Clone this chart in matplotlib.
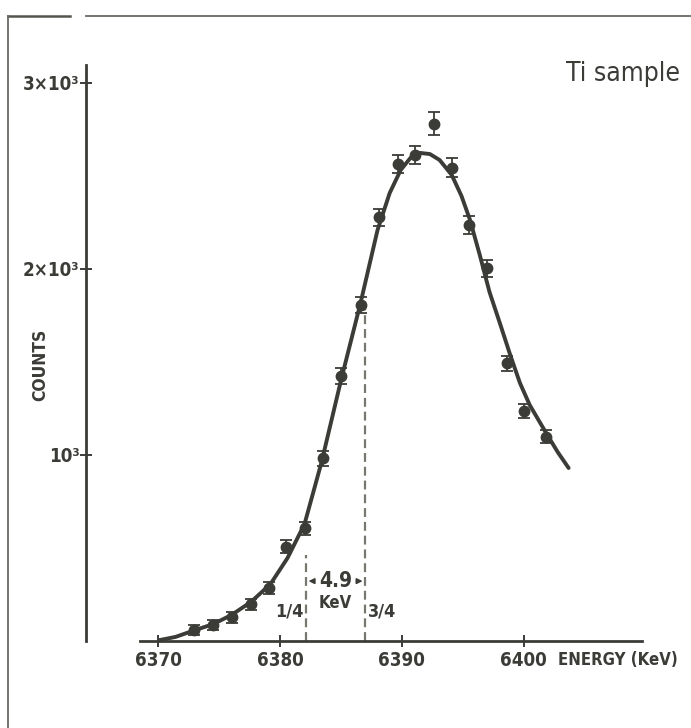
import matplotlib
matplotlib.use("Agg")
import matplotlib.pyplot as plt
from matplotlib.lines import Line2D
from matplotlib import font_manager

# measured points (energy in keV, counts, error)
energy = [6372.9, 6374.5, 6376.0, 6377.6, 6379.1, 6380.5, 6382.0, 6383.5, 6385.0, 6386.6,
          6388.1, 6389.7, 6391.1, 6392.6, 6394.1, 6395.5, 6397.0, 6398.6, 6400.0, 6401.8]
counts = [59, 86, 127, 197, 283, 507, 606, 982, 1425, 1806,
          2278, 2563, 2613, 2780, 2545, 2237, 2004, 1493, 1237, 1099]
errors = [25, 25, 28, 30, 32, 35, 35, 40, 42, 45,
          45, 48, 48, 62, 50, 48, 45, 40, 38, 36]

# fitted curve
fit_e = [6370.1, 6371.4, 6372.8, 6374.5, 6376.0, 6377.6, 6379.2, 6380.6, 6382.0, 6383.4,
         6385.0, 6386.6, 6388.0, 6389.0, 6389.9, 6390.7, 6391.5, 6392.3, 6393.1, 6394.1,
         6394.9, 6395.6, 6396.4, 6397.2, 6398.1, 6398.9, 6399.7, 6400.5, 6401.8, 6402.8, 6403.7]
fit_c = [5, 22, 54, 91, 140, 210, 306, 446, 629, 962,
         1403, 1817, 2210, 2409, 2532, 2597, 2624, 2618, 2586, 2505,
         2392, 2263, 2075, 1876, 1699, 1538, 1387, 1269, 1124, 1016, 930]

quarter_e = [6382.1, 6387.0]
quarter_top = [462, 1833]

xticks = [6370, 6380, 6390, 6400]
yticks = [1000, 2000, 3000]
ylabels = ['10³', '2×10³', '3×10³']

ink = '#3b3b37'
names = {f.name for f in font_manager.fontManager.ttflist}
fnt = [n for n in ['Liberation Sans Narrow', 'DejaVu Sans'] if n in names] or ['DejaVu Sans']
fkw = dict(family=fnt, fontweight='bold', fontstretch='condensed', color=ink)

W, H = 691, 728
fig = plt.figure(figsize=(W / 100, H / 100), dpi=100)

# pixel -> data mapping
px0, e0, ppk = 158.5, 6370, 12.17
py0, ppc = 641, 0.186
left_px, right_px, top_px = 86, 685, 65
ax = fig.add_axes([left_px / W, (H - py0) / H, (right_px - left_px) / W, (py0 - top_px) / H])
ax.set_xlim(e0 + (left_px - px0) / ppk, e0 + (right_px - px0) / ppk)
ax.set_ylim(0, (py0 - top_px) / ppc)

ax.plot(fit_e, fit_c, color=ink, lw=2.8, solid_capstyle='round')
ax.errorbar(energy, counts, yerr=errors, fmt='o', color=ink, ms=7.5,
            elinewidth=1.3, capsize=4, capthick=1.3, zorder=3)

for e, top in zip(quarter_e, quarter_top):
    ax.plot([e, e], [0, top], color='#77776f', lw=1.6, ls=(0, (4, 2.2)))

ax.annotate('', xy=(quarter_e[0], 322), xytext=(quarter_e[0] + 0.9, 322),
            arrowprops=dict(arrowstyle='-|>', color=ink, lw=1.2, mutation_scale=8))
ax.annotate('', xy=(quarter_e[1], 322), xytext=(quarter_e[1] - 0.9, 322),
            arrowprops=dict(arrowstyle='-|>', color=ink, lw=1.2, mutation_scale=8))
ax.text(sum(quarter_e) / 2, 322, '4.9', ha='center', va='center', fontsize=15, **fkw)
ax.text(sum(quarter_e) / 2, 203, 'KeV', ha='center', va='center', fontsize=12, **fkw)
ax.text(quarter_e[0] - 0.2, 160, '1/4', ha='right', va='center', fontsize=13, **fkw)
ax.text(quarter_e[1] + 0.25, 160, '3/4', ha='left', va='center', fontsize=13, **fkw)

for s in ['top', 'right']:
    ax.spines[s].set_visible(False)
ax.spines['left'].set_color(ink)
ax.spines['left'].set_linewidth(2.0)
ax.spines['bottom'].set_color(ink)
ax.spines['bottom'].set_linewidth(2.0)
ax.spines['bottom'].set_bounds(e0 + (140 - px0) / ppk, e0 + (642 - px0) / ppk)

ax.set_xticks(xticks)
ax.set_xticklabels([str(t) for t in xticks])
ax.set_yticks(yticks)
ax.set_yticklabels(ylabels)
ax.tick_params(direction='inout', length=9, width=1.4, color=ink, labelcolor=ink,
               labelsize=13.5)
ax.tick_params(axis='y', pad=0)
ax.tick_params(axis='x', pad=3)
for lab in ax.get_xticklabels() + ax.get_yticklabels():
    lab.set_family(fnt)
    lab.set_fontweight('bold')
    lab.set_fontstretch('condensed')

fig.text(40 / W, 1 - 365 / H, 'COUNTS', rotation=90, ha='center', va='center',
         fontsize=12.5, **fkw)
fig.text(678 / W, 1 - 660 / H, 'ENERGY (KeV)', ha='right', va='center',
         fontsize=12, **fkw)
fig.text(680 / W, 1 - 74 / H, 'Ti sample', ha='right', va='center',
         color=ink, fontsize=19, family=fnt, fontstretch='condensed')

# scanned page border
fig.add_artist(Line2D([8 / W, 70 / W], [1 - 16 / H, 1 - 16 / H], color='#55554f', lw=1.8))
fig.add_artist(Line2D([86 / W, 1.0], [1 - 16 / H, 1 - 16 / H], color='#6a6a64', lw=1.3))
fig.add_artist(Line2D([8 / W, 8 / W], [0, 1 - 16 / H], color='#6a6a64', lw=1.3))

fig.savefig('out.png', dpi=100)
